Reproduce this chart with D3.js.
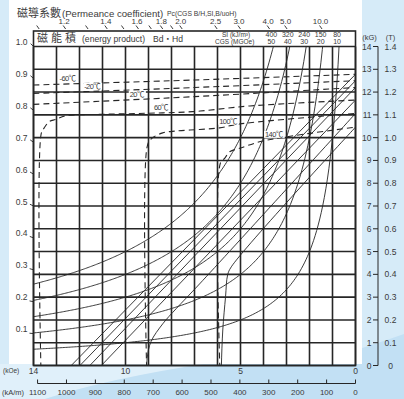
<!DOCTYPE html>
<html><head><meta charset="utf-8">
<script src="https://cdn.jsdelivr.net/npm/d3@7/dist/d3.min.js"></script>
<style>body{margin:0;background:#d6ebf8;} svg{display:block;font-family:"Liberation Sans",Arial,"Noto Sans CJK TC",sans-serif;}</style>
</head><body><svg id="c" width="404" height="399"></svg>
<script>
// ---------- data ----------
const kOeTicks = [14, 10, 5, 0];
const kAmTicks = [1100, 1000, 900, 800, 700, 600, 500, 400, 300, 200, 100, 0];
const kGTicks = [0,1,2,3,4,5,6,7,8,9,10,11,12,13,14];
const teslaTicks = ["0","0.1","0.2","0.3","0.4","0.5","0.6","0.7","0.8","0.9","1.0","1.1","1.2","1.3","1.4"];
const pcLeft = [0.1,0.2,0.3,0.4,0.5,0.6,0.7,0.8,0.9,1.0];
const pcTop = [1.2,1.4,1.6,1.8,2.0,2.5,3.0,4.0,5.0,10.0];
const pcTopMinor = [1.1,1.3,1.5,1.7,1.9];
const energyMGOe = [50, 40, 30, 20, 10];
const energyKJ = [400, 320, 240, 150, 80];
const tempLabels = ["-60℃","-20℃","20℃","60℃","100℃","140℃"];
// intrinsic (J) curves, [H kOe, J kG]
const jM60 = [[14,12.31],[7,12.53],[0,12.78]];
const jM20 = [[14,11.94],[7,12.2],[0,12.5]];
const j20  = [[14,11.46],[7,11.8],[0,12.2]];
const j60  = [[13.66,-1],[13.66,10.2],[13.54,10.42],[13.32,10.7],[13.03,10.8],[12.6,10.96],[11.15,11.02],[9.1,11.07],[7.09,11.14],[4.6,11.39],[0,11.65]];
const j100 = [[9.06,-1],[9.06,9.6],[8.89,9.94],[8.38,10.21],[7.8,10.29],[6.78,10.36],[5.91,10.43],[5.04,10.6],[0,11.06]];
const j140 = [[5.87,-1],[5.87,8.9],[5.69,9.09],[5.47,9.38],[5.04,9.53],[4.03,9.85],[0,10.46]];
// normal (B) curves, [H kOe, B kG]
const bM60 = [[0,12.78],[12.36,0]];
const bM20 = [[0,12.5],[11.98,0]];
const b20  = [[0,12.2],[11.55,0]];
const b60  = [[0,11.65],[11.05,0]];
const b100 = [[0,11.06],[6.78,3.58],[7.8,2.49],[8.38,1.83],[8.89,1.05],[9.06,0.3],[9.07,-1]];
const b140 = [[0,10.46],[5.4,4.33],[5.56,3.97],[5.65,3.02],[5.77,1.56],[5.83,0],[5.84,-1]];

// ---------- layout ----------
const svg = d3.select("#c");
const x = d3.scaleLinear().domain([14, 0]).range([33.5, 355.5]);
const y = d3.scaleLinear().domain([0, 14]).range([365.5, 46.5]);
const xA = d3.scaleLinear().domain([1100, 0]).range([x(1100/79.5775), x(0)]);
const ink = "#262626", txt = "#3a3a3a";
const CJK = "'Noto Sans CJK TC','Noto Sans CJK SC',sans-serif";

// backgrounds
svg.append("rect").attr("width",404).attr("height",399).attr("fill","#d6ebf8");
svg.append("path").attr("d","M0,364 L210,364 Q110,378 45,399 L0,399 Z").attr("fill","#e0f0fa");
svg.append("path").attr("d","M45,399 Q110,378 210,363 L330,358 Q370,346 404,334 L404,399 Z").attr("fill","#c2e0f4");
svg.append("rect").attr("x",9).attr("y",0).attr("width",353).attr("height",364).attr("fill","#ffffff");

// clip
svg.append("clipPath").attr("id","plot").append("rect")
  .attr("x",x(14)).attr("y",y(14)).attr("width",x(0)-x(14)).attr("height",y(0)-y(14));

// grid
const g = svg.append("g");
kGTicks.forEach(v=>{
  g.append("line").attr("x1",x(14)).attr("x2",x(0)).attr("y1",y(v)).attr("y2",y(v))
   .attr("stroke",ink).attr("stroke-width",1.6);
});
d3.range(0,15).forEach(v=>{
  g.append("line").attr("x1",x(v)).attr("x2",x(v)).attr("y1",y(0)).attr("y2",y(14))
   .attr("stroke",ink).attr("stroke-width",1.6);
});
// header box
g.append("rect").attr("x",x(14)).attr("y",31).attr("width",x(0)-x(14)).attr("height",y(0)-31)
 .attr("fill","none").attr("stroke",ink).attr("stroke-width",1.6);

const curves = svg.append("g").attr("clip-path","url(#plot)");
// energy product hyperbolas (B*H = const)
energyMGOe.forEach(E=>{
  const pts = d3.range(0,201).map(i=>{const h=E/14.5+(14-E/14.5)*i/200; return [h,E/h];});
  curves.append("path").attr("d",d3.line().x(d=>x(d[0])).y(d=>y(d[1]))(pts))
    .attr("fill","none").attr("stroke",ink).attr("stroke-width",0.9);
});
// B curves
const lineGen = d3.line().x(d=>x(d[0])).y(d=>y(d[1])).curve(d3.curveCatmullRom.alpha(0.5));
[bM60,bM20,b20,b60,b100,b140].forEach(c=>{
  curves.append("path").attr("d",lineGen(c)).attr("fill","none").attr("stroke",ink).attr("stroke-width",0.9);
});
// J curves
[jM60,jM20,j20,j60,j100,j140].forEach(c=>{
  curves.append("path").attr("d",lineGen(c)).attr("fill","none").attr("stroke",ink)
    .attr("stroke-width",1.1).attr("stroke-dasharray","6,4");
});
// temperature labels
const labelH = [12.52, 11.45, 9.51, 8.46, 5.54, 3.55];
[jM60,jM20,j20,j60,j100,j140].forEach((c,i)=>{
  const h = labelH[i];
  let jv = c[c.length-1][1];
  for(let k=0;k<c.length-1;k++){const a=c[k],b=c[k+1]; if((a[0]-h)*(b[0]-h)<=0 && a[0]!==b[0]){jv=a[1]+(b[1]-a[1])*(h-a[0])/(b[0]-a[0]);break;}}
  const cx = x(h), cy = y(jv)-5;
  const t = svg.append("text").attr("x",cx).attr("y",cy+2.5).attr("text-anchor","middle")
    .attr("font-size",7.5).attr("fill",txt).attr("letter-spacing",-0.6).text(tempLabels[i]);
  const bb = t.node().getBBox();
  svg.insert("rect", () => t.node()).attr("x",bb.x-1).attr("y",bb.y+1).attr("width",bb.width+2).attr("height",bb.height-2).attr("fill","#fff");
});

// left permeance ticks
const ox = x(0), oy = y(0);
pcLeft.forEach(p=>{
  const px = x(14), py = y(14*p);
  const dx = px-ox, dy = py-oy, L = Math.hypot(dx,dy);
  svg.append("line").attr("x1",px).attr("y1",py).attr("x2",px+dx/L*4).attr("y2",py+dy/L*4)
    .attr("stroke",ink).attr("stroke-width",0.9);
  svg.append("text").attr("x",27.5).attr("y",py-1.5).attr("text-anchor","end")
    .attr("font-size",8.5).attr("fill",txt).text(p.toFixed(1));
});
// top permeance ticks: where each permeance line B = Pc*H meets the scale row
const Btop = 15.2;
function topX(p){ return x(Btop/p); }
pcTop.concat(pcTopMinor).forEach(p=>{
  const X = topX(p);
  svg.append("line").attr("x1",X-1).attr("y1",25.5).attr("x2",X+1.5).attr("y2",29)
    .attr("stroke",ink).attr("stroke-width",0.9);
});
pcTop.forEach(p=>{
  svg.append("text").attr("x",topX(p)).attr("y",24).attr("text-anchor","middle")
    .attr("font-size",8).attr("fill",txt).text(p.toFixed(1));
});
// titles
svg.append("text").attr("x",17).attr("y",16.5).attr("font-size",11).attr("fill",txt)
  .attr("font-family",CJK).text("磁導系數");
svg.append("text").attr("x",62).attr("y",16.5).attr("font-size",9.6).attr("fill",txt).text("(Permeance coefficient)");
svg.append("text").attr("x",167).attr("y",15.5).attr("font-size",6.8).attr("fill",txt).text("Pc(CGS B/H,SI,B/uoH)");
svg.append("text").attr("x",37).attr("y",42).attr("font-size",11).attr("fill",txt)
  .attr("font-family",CJK).attr("letter-spacing",3).text("磁能積");
svg.append("text").attr("x",82).attr("y",42).attr("font-size",8.6).attr("fill",txt).text("(energy product)");
svg.append("text").attr("x",153).attr("y",42).attr("font-size",8.6).attr("fill",txt).text("Bd・Hd");
svg.append("text").attr("x",222).attr("y",37).attr("font-size",6.5).attr("fill",txt).text("SI    (kJ/m³)");
svg.append("text").attr("x",215).attr("y",44).attr("font-size",6.5).attr("fill",txt).text("CGS (MGOe)");
energyMGOe.forEach((E,i)=>{
  const X = x(E/14)-2;
  svg.append("text").attr("x",X).attr("y",37).attr("text-anchor","middle").attr("font-size",7).attr("fill",txt).text(energyKJ[i]);
  svg.append("text").attr("x",X).attr("y",44).attr("text-anchor","middle").attr("font-size",7).attr("fill",txt).text(E);
});

// right axis
const ax = 378;
svg.append("line").attr("x1",ax).attr("x2",ax).attr("y1",y(14)).attr("y2",y(0)).attr("stroke",ink).attr("stroke-width",1);
kGTicks.forEach((v,i)=>{
  svg.append("line").attr("x1",ax-5).attr("x2",ax).attr("y1",y(v)).attr("y2",y(v)).attr("stroke",ink).attr("stroke-width",1);
  svg.append("text").attr("x",371.5).attr("y",y(v)+3).attr("text-anchor","end").attr("font-size",8.5).attr("fill",txt).text(v);
  svg.append("text").attr("x",390.5).attr("y",y(v)+3).attr("text-anchor","middle").attr("font-size",8.5).attr("fill",txt).text(teslaTicks[i]);
});
svg.append("text").attr("x",369.5).attr("y",40).attr("text-anchor","middle").attr("font-size",7.5).attr("fill",txt).text("(kG)");
svg.append("text").attr("x",390.5).attr("y",40).attr("text-anchor","middle").attr("font-size",7.5).attr("fill",txt).text("(T)");

// bottom kOe labels
kOeTicks.forEach(v=>{
  svg.append("text").attr("x",x(v)).attr("y",374).attr("text-anchor","middle").attr("font-size",8.5).attr("fill",txt).text(v);
});
svg.append("text").attr("x",3).attr("y",372.5).attr("font-size",6.5).attr("fill",txt).text("(kOe)");
// kA/m axis
const ay = 383.5;
svg.append("line").attr("x1",xA(1100)).attr("x2",xA(0)).attr("y1",ay).attr("y2",ay).attr("stroke",ink).attr("stroke-width",1);
kAmTicks.forEach(v=>{
  svg.append("line").attr("x1",xA(v)).attr("x2",xA(v)).attr("y1",ay-4).attr("y2",ay).attr("stroke",ink).attr("stroke-width",1);
  svg.append("text").attr("x",xA(v)).attr("y",395).attr("text-anchor","middle").attr("font-size",8).attr("fill",txt).text(v);
});
svg.append("text").attr("x",2).attr("y",395).attr("font-size",7.5).attr("fill",txt).text("(kA/m)");
</script></body></html>
